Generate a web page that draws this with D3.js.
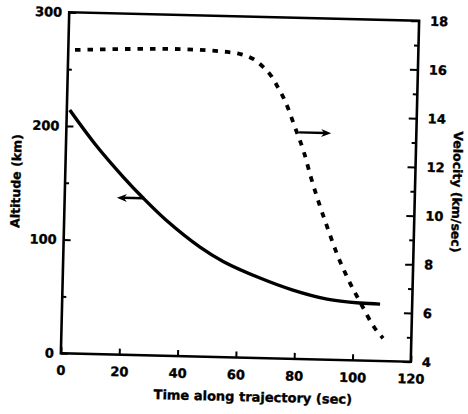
<!DOCTYPE html>
<html>
<head>
<meta charset="utf-8">
<script src="https://cdn.jsdelivr.net/npm/d3@7"></script>
<style>
  body { margin: 0; background: #fff; }
  svg { display: block; }
  text { font-family: "DejaVu Sans", sans-serif; font-weight: bold; fill: #000; stroke: #000; stroke-width: 0.35px; }
</style>
</head>
<body>
<svg id="chart" width="468" height="414"></svg>
<script>
// Altitude (left axis, solid line)
const altTime  = [1, 10, 20, 26.9, 35, 46.8, 55, 67.6, 79, 90.8, 102.1, 109];
const altitude = [214, 184.5, 156, 138.2, 119.2, 96.3, 84, 70.4, 60.5, 53.3, 50.5, 50];

// Velocity (right axis, dashed line)
const velTime  = [2.3, 20, 38.3, 54.4, 58.9, 63.4, 66.9, 70, 72.5, 74.7, 78.3, 81.6, 84.3, 87.2, 90.5, 93.8, 97.8, 102.5, 107.1, 110.3];
const velocity = [16.46, 16.55, 16.6, 16.53, 16.46, 16.27, 15.95, 15.55, 15.06, 14.58, 13.52, 12.5, 11.44, 10.42, 9.36, 8.35, 7.33, 6.32, 5.39, 4.94];

// Axis ticks
const timeTicks = [0, 20, 40, 60, 80, 100, 120];
const altTicks = [0, 100, 200, 300];
const altMinorTicks = [50, 150, 250];
const velTicks = [4, 6, 8, 10, 12, 14, 16, 18];
const velMinorTicks = [5, 7, 9, 11, 13, 15, 17];

// Arrow annotations: which curve belongs to which axis
const altArrow = { from: [26.9, 138], to: [17.9, 138] };
const velArrow = { from: [79.8, 13.3], to: [90.8, 13.3] };

const frame = { left: 65, right: 415, top: 16.5, bottom: 357.5 };

const svg = d3.select("#chart");
const g = svg.append("g").attr("transform", "rotate(1.4, 240, 187)");

const x = d3.scaleLinear().domain([0, 120]).range([frame.left, frame.right]);
const yAlt = d3.scaleLinear().domain([0, 300]).range([frame.bottom, frame.top]);
const yVel = d3.scaleLinear().domain([4, 18]).range([frame.bottom, frame.top]);

function styleAxis(sel) {
  sel.select(".domain").remove();
  sel.selectAll(".tick line").attr("stroke", "#000").attr("stroke-width", 2);
  sel.selectAll(".tick text")
    .attr("font-family", "DejaVu Sans, sans-serif")
    .attr("font-weight", "bold")
    .attr("font-size", 13)
    .attr("fill", "#000");
}

// Bottom axis
g.append("g")
  .attr("transform", `translate(0,${frame.bottom})`)
  .call(d3.axisBottom(x).tickValues(timeTicks).tickSize(-6).tickPadding(12.5).tickSizeOuter(0))
  .call(styleAxis);

// Left axis (major + minor)
g.append("g")
  .attr("transform", `translate(${frame.left},0)`)
  .call(d3.axisLeft(yAlt).tickValues(altTicks).tickSize(-7).tickPadding(7).tickSizeOuter(0))
  .call(styleAxis);
g.append("g")
  .attr("transform", `translate(${frame.left},0)`)
  .call(d3.axisLeft(yAlt).tickValues(altMinorTicks).tickSize(-4).tickFormat("").tickSizeOuter(0))
  .call(styleAxis);

// Right axis (major + minor)
g.append("g")
  .attr("transform", `translate(${frame.right},0)`)
  .call(d3.axisRight(yVel).tickValues(velTicks).tickSize(-8).tickPadding(11).tickSizeOuter(0))
  .call(styleAxis);
g.append("g")
  .attr("transform", `translate(${frame.right},0)`)
  .call(d3.axisRight(yVel).tickValues(velMinorTicks).tickSize(-4.5).tickFormat("").tickSizeOuter(0))
  .call(styleAxis);

// Plot frame
g.append("rect")
  .attr("x", frame.left).attr("y", frame.top)
  .attr("width", frame.right - frame.left).attr("height", frame.bottom - frame.top)
  .attr("fill", "none").attr("stroke", "#000").attr("stroke-width", 2.6);

// Altitude curve
const altLine = d3.line().x(d => x(d[0])).y(d => yAlt(d[1])).curve(d3.curveCatmullRom);
g.append("path")
  .datum(d3.zip(altTime, altitude))
  .attr("d", altLine)
  .attr("fill", "none").attr("stroke", "#000").attr("stroke-width", 3.4);

// Velocity curve
const velLine = d3.line().x(d => x(d[0])).y(d => yVel(d[1])).curve(d3.curveMonotoneX);
g.append("path")
  .datum(d3.zip(velTime, velocity))
  .attr("d", velLine)
  .attr("fill", "none").attr("stroke", "#000").attr("stroke-width", 3.8)
  .attr("stroke-dasharray", "5.5,7");

// Arrows
function arrow(a, yScale) {
  const x1 = x(a.from[0]), y1 = yScale(a.from[1]);
  const x2 = x(a.to[0]), y2 = yScale(a.to[1]);
  const dir = Math.sign(x2 - x1);
  g.append("line")
    .attr("x1", x1).attr("y1", y1).attr("x2", x2 - dir * 6).attr("y2", y2)
    .attr("stroke", "#000").attr("stroke-width", 2.4);
  g.append("path")
    .attr("d", `M${x2},${y2} L${x2 - dir * 10},${y2 - 4} L${x2 - dir * 7},${y2} L${x2 - dir * 10},${y2 + 4} Z`)
    .attr("fill", "#000");
}
arrow(altArrow, yAlt);
arrow(velArrow, yVel);

// Axis titles
g.append("text")
  .attr("transform", "translate(16,186.5) rotate(-90)")
  .attr("text-anchor", "middle").attr("dy", "0.35em")
  .attr("font-size", 12.5)
  .text("Altitude (km)");

g.append("text")
  .attr("transform", "translate(457,186.7) rotate(90)")
  .attr("text-anchor", "middle").attr("dy", "0.35em")
  .attr("font-size", 12.5)
  .text("Velocity (km/sec)");

g.append("text")
  .attr("x", 258).attr("y", 396.6)
  .attr("text-anchor", "middle").attr("dy", "0.35em")
  .attr("font-size", 13)
  .text("Time along trajectory (sec)");
</script>
</body>
</html>
